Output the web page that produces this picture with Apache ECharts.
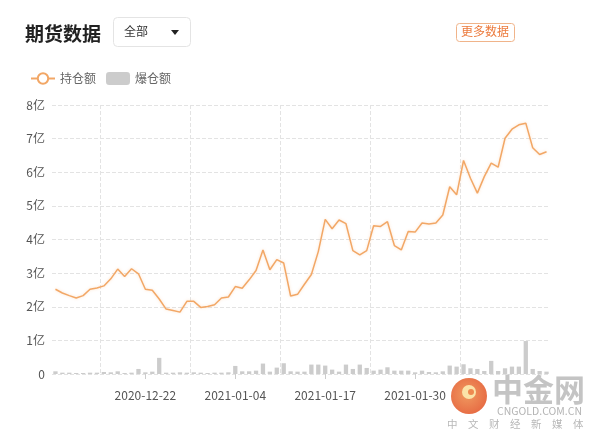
<!DOCTYPE html>
<html>
<head>
<meta charset="utf-8">
<script src="https://cdn.jsdelivr.net/npm/echarts@6/dist/echarts.min.js"></script>
<style>
html,body{margin:0;padding:0;background:#fff;}
#chart{width:600px;height:443px;}
</style>
</head>
<body>
<div id="chart"></div>
<script>
var categories = [
'2020-12-09','2020-12-10','2020-12-11','2020-12-12','2020-12-13','2020-12-14','2020-12-15','2020-12-16','2020-12-17','2020-12-18',
'2020-12-19','2020-12-20','2020-12-21','2020-12-22','2020-12-23','2020-12-24','2020-12-25','2020-12-26','2020-12-27','2020-12-28',
'2020-12-29','2020-12-30','2020-12-31','2021-01-01','2021-01-02','2021-01-03','2021-01-04','2021-01-05','2021-01-06','2021-01-07',
'2021-01-08','2021-01-09','2021-01-10','2021-01-11','2021-01-12','2021-01-13','2021-01-14','2021-01-15','2021-01-16','2021-01-17',
'2021-01-18','2021-01-19','2021-01-20','2021-01-21','2021-01-22','2021-01-23','2021-01-24','2021-01-25','2021-01-26','2021-01-27',
'2021-01-28','2021-01-29','2021-01-30','2021-01-31','2021-02-01','2021-02-02','2021-02-03','2021-02-04','2021-02-05','2021-02-06',
'2021-02-07','2021-02-08','2021-02-09','2021-02-10','2021-02-11','2021-02-12','2021-02-13','2021-02-14','2021-02-15','2021-02-16',
'2021-02-17','2021-02-18'
];
var openInterest = [
2.52,2.41,2.33,2.26,2.33,2.52,2.56,2.62,2.83,3.12,
2.90,3.13,2.98,2.52,2.49,2.23,1.93,1.89,1.84,2.16,
2.16,1.98,2.01,2.06,2.26,2.29,2.60,2.55,2.80,3.08,
3.69,3.10,3.40,3.30,2.32,2.37,2.67,2.96,3.64,4.60,
4.32,4.58,4.47,3.67,3.54,3.67,4.41,4.39,4.53,3.82,
3.69,4.24,4.22,4.49,4.46,4.49,4.73,5.57,5.33,6.35,
5.82,5.38,5.87,6.27,6.15,7.01,7.28,7.41,7.46,6.73,
6.53,6.61
];
var liquidation = [
0.08,0.04,0.04,0.03,0.03,0.04,0.04,0.06,0.05,0.08,
0.03,0.04,0.15,0.05,0.07,0.48,0.04,0.04,0.05,0.04,
0.05,0.04,0.03,0.04,0.04,0.05,0.24,0.08,0.08,0.10,
0.31,0.07,0.19,0.32,0.08,0.07,0.07,0.28,0.28,0.25,
0.13,0.07,0.28,0.15,0.28,0.18,0.10,0.13,0.20,0.10,
0.10,0.10,0.05,0.10,0.06,0.05,0.08,0.25,0.22,0.29,
0.17,0.15,0.09,0.39,0.09,0.17,0.22,0.22,0.98,0.15,
0.09,0.07
];
var xTickLabels = ['2020-12-22','2021-01-04','2021-01-17','2021-01-30'];
// vertical grid lines sit on the band boundary just before these dates
var xGridDates = ['2020-12-16','2020-12-29','2021-01-11','2021-01-24','2021-02-06'];
var seriesNames = ['持仓额','爆仓额'];

// helper axis of half-band steps (band edges and centres) used only to place vertical grid lines
var halfSteps = [];
for (var k = 0; k <= categories.length * 2; k++) halfSteps.push(k);
var gridStepIdx = xGridDates.map(function(d){ return categories.indexOf(d) * 2; });

var FONT = '"Noto Sans CJK SC", "Noto Sans", sans-serif';
var chart = echarts.init(document.getElementById('chart'), null, {renderer:'canvas'});

function showLabel(i){ return xTickLabels.indexOf(categories[i]) >= 0; }

chart.setOption({
  animation:false,
  backgroundColor:'#fff',
  textStyle:{fontFamily:FONT},
  title:{
    text:'期货数据', left:20, top:19,
    textStyle:{fontSize:19, fontWeight:'bold', color:'#222', fontFamily:FONT}
  },
  legend:{
    left:25, top:67, itemWidth:24, itemHeight:13, itemGap:10,
    textStyle:{fontSize:12, color:'#666', fontFamily:FONT},
    data:[
      {name:seriesNames[0]},
      {name:seriesNames[1], itemStyle:{borderRadius:3}}
    ]
  },
  grid:{left:52, right:50, top:105, bottom:69},
  xAxis:[
    {
      type:'category',
      data:categories,
      boundaryGap:true,
      axisLine:{show:false},
      axisTick:{show:true, alignWithLabel:true, interval:function(i){return showLabel(i);}, length:5, lineStyle:{color:'#ccc'}},
      axisLabel:{interval:function(i){return showLabel(i);}, margin:15, fontSize:12, color:'#555', fontFamily:FONT},
      splitLine:{show:false}
    },
    {
      type:'category',
      data:halfSteps,
      boundaryGap:false,
      position:'bottom',
      axisLine:{show:false}, axisTick:{show:false}, axisLabel:{show:false},
      splitLine:{show:true, interval:function(j){return gridStepIdx.indexOf(j) >= 0;}, lineStyle:{type:'dashed', color:'#e3e3e3'}}
    }
  ],
  yAxis:{
    type:'value', min:0, max:8, interval:1,
    axisLine:{show:false}, axisTick:{show:false},
    axisLabel:{fontSize:12, color:'#555', margin:7, fontFamily:FONT,
      formatter:function(v){return v===0?'0':v+'亿';}},
    splitLine:{lineStyle:{type:'dashed', color:'#e3e3e3'}}
  },
  series:[
    {
      name:seriesNames[0], type:'line', data:openInterest, xAxisIndex:0,
      symbol:'emptyCircle', symbolSize:10, showSymbol:false,
      smooth:false, z:3,
      itemStyle:{color:'#f2a766'},
      lineStyle:{color:'#f2a766', width:1.5, shadowColor:'rgba(245,170,100,0.35)', shadowBlur:3}
    },
    {
      name:seriesNames[1], type:'bar', data:liquidation, xAxisIndex:0,
      barWidth:'62%', z:2,
      itemStyle:{color:'#cccccc'}
    }
  ],
  graphic:[
    {type:'rect', left:113, top:17, shape:{width:77, height:29, r:4},
     style:{fill:'#fff', stroke:'#e4e4e4', lineWidth:1}},
    {type:'text', left:124, top:25, style:{text:'全部', fontSize:12, fill:'#333', fontFamily:FONT}},
    {type:'polygon', shape:{points:[[171,30],[179,30],[175,35]]}, style:{fill:'#222'}},
    {type:'rect', left:456, top:23, shape:{width:58, height:18, r:3},
     style:{fill:'#fff', stroke:'#f0b48a', lineWidth:1}},
    {type:'text', left:461, top:25, style:{text:'更多数据', fontSize:12, fill:'#ec7a3c', fontFamily:FONT}},
    {type:'circle', shape:{cx:469, cy:396, r:18}, z:100,
     style:{fill:new echarts.graphic.RadialGradient(0.45,0.45,0.7,[{offset:0,color:'#f09a60'},{offset:1,color:'#e5623e'}])}},
    {type:'circle', shape:{cx:469, cy:392, r:7}, z:101, style:{fill:'#fbe3a8'}},
    {type:'circle', shape:{cx:471, cy:392, r:3}, z:102, style:{fill:'#ee8a50'}},
    {type:'text', left:492, top:374, z:100, style:{text:'中金网', fontSize:31, fontWeight:'bold', fill:'#c4c4c4', fontFamily:FONT}},
    {type:'text', left:497, top:406, z:100, style:{text:'CNGOLD.COM.CN', fontSize:10.5, fill:'#b4b4b4', fontFamily:FONT}},
    {type:'text', left:447, top:419, z:100, style:{text:'中　文　财　经　新　媒　体', fontSize:10.5, fill:'#b8b8b8', fontFamily:FONT}}
  ]
});
</script>
</body>
</html>
